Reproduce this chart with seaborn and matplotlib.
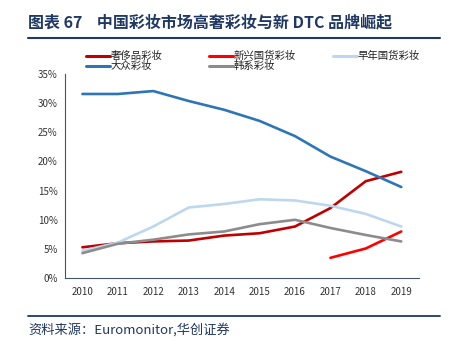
import matplotlib
matplotlib.use("Agg")
import matplotlib.pyplot as plt
from matplotlib.ticker import FixedLocator, PercentFormatter
from matplotlib.lines import Line2D
import seaborn as sns
import pandas as pd
import numpy as np

years = [2010, 2011, 2012, 2013, 2014, 2015, 2016, 2017, 2018, 2019]
luxury = [5.3, 6.0, 6.3, 6.45, 7.3, 7.7, 8.85, 12.0, 16.6, 18.2]
new_domestic = [None, None, None, None, None, None, None, 3.5, 5.1, 8.0]
old_domestic = [4.7, 6.1, 8.85, 12.1, 12.7, 13.5, 13.3, 12.4, 11.0, 8.85]
mass = [31.5, 31.5, 32.0, 30.3, 28.8, 26.9, 24.3, 20.8, 18.3, 15.6]
korean = [4.3, 5.9, 6.6, 7.5, 8.0, 9.25, 10.0, 8.6, 7.4, 6.3]

names = ["奢侈品彩妆", "新兴国货彩妆", "早年国货彩妆", "大众彩妆", "韩系彩妆"]
series = [luxury, new_domestic, old_domestic, mass, korean]
colors = ["#C00000", "#FF0000", "#BDD7EE", "#2E75B6", "#8C8C8C"]

rows = []
for n, s in zip(names, series):
    for i, (y, v) in enumerate(zip(years, s)):
        if v is not None:
            rows.append({"pos": i, "year": y, "value": v, "series": n})
df = pd.DataFrame(rows)

sns.set_theme(style="white")
plt.rcParams['font.family'] = ['Noto Sans CJK SC', 'DejaVu Sans']

W, H = 454, 340
fig = plt.figure(figsize=(W / 100, H / 100), dpi=100)
ax = fig.add_axes([64.7 / W, 1 - 278.3 / H, (419 - 64.7) / W, (278.3 - 73.5) / H])

sns.lineplot(data=df, x="pos", y="value", hue="series", hue_order=names,
             palette=dict(zip(names, colors)), linewidth=1.9, ax=ax, legend=False)

ax.set_xlim(-0.5, 9.5)
ax.set_ylim(0, 35)
ax.yaxis.set_major_locator(FixedLocator(np.arange(0, 36, 5)))
ax.yaxis.set_major_formatter(PercentFormatter(decimals=0))
ax.xaxis.set_major_locator(FixedLocator(np.arange(-0.5, 10, 1)))
ax.xaxis.set_major_formatter(plt.NullFormatter())
ax.xaxis.set_minor_locator(FixedLocator(np.arange(0, 10)))
ax.set_xticklabels([str(y) for y in years], minor=True)
ax.tick_params(axis="x", which="minor", length=0, labelsize=7, pad=6, colors="#333333")
ax.tick_params(axis="x", which="major", length=3, direction="out", color="#44546A", width=0.8)
ax.tick_params(axis="y", length=3, direction="out", labelsize=7, color="#44546A", width=0.8, labelcolor="#333333", pad=2)
for lab in ax.get_xticklabels(minor=True):
    lab.set_color("#333333")
ax.set_xlabel("")
ax.set_ylabel("")
for side in ["top", "right"]:
    ax.spines[side].set_visible(False)
for side in ["left", "bottom"]:
    ax.spines[side].set_color("#44546A")
    ax.spines[side].set_linewidth(0.8)

# legend, placed entry by entry as in the reference
entries = [(0, 86, 55.7), (1, 209, 55.7), (2, 333, 55.7), (3, 86, 66.2), (4, 209, 66.2)]
for idx, x0, y0 in entries:
    fig.add_artist(Line2D([x0 / W, (x0 + 24) / W], [1 - y0 / H, 1 - y0 / H],
                          color=colors[idx], linewidth=2.2, transform=fig.transFigure))
    fig.text((x0 + 25) / W, 1 - y0 / H, names[idx], fontsize=7.5, color="#222222",
             va="center", ha="left")

# title
navy = "#1F3864"
fig.text(28 / W, 1 - 22 / H, "图表 67    中国彩妆市场高奢彩妆与新 DTC 品牌崛起",
         fontsize=11.5, fontweight="bold", color=navy, va="center", ha="left",
         family=["Noto Sans CJK SC", "DejaVu Sans"])
fig.add_artist(Line2D([28 / W, 440 / W], [1 - 37.5 / H, 1 - 37.5 / H],
                      color=navy, linewidth=1.5, transform=fig.transFigure))
fig.add_artist(Line2D([28 / W, 440 / W], [1 - 315.5 / H, 1 - 315.5 / H],
                      color=navy, linewidth=1.3, transform=fig.transFigure))
fig.text(28 / W, 1 - 330 / H, "资料来源：Euromonitor,华创证券",
         fontsize=9.5, style="italic", color=navy, va="center", ha="left",
         family=["Noto Sans CJK SC", "DejaVu Sans"])

fig.savefig("out.png", dpi=100)
